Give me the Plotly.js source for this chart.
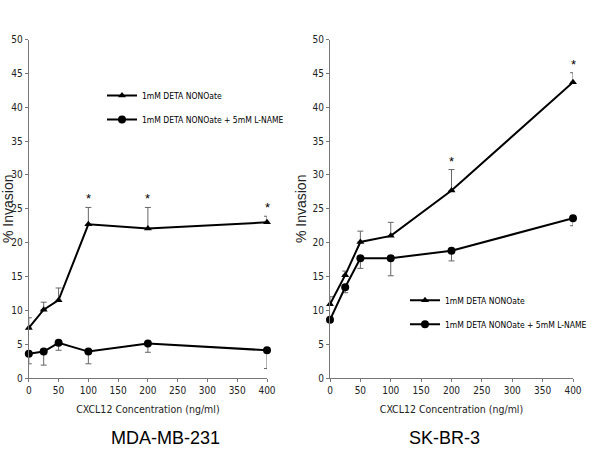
<!DOCTYPE html>
<html>
<head>
<meta charset="utf-8">
<script src="https://cdn.plot.ly/plotly-3.0.1.min.js"></script>
<style>
  html, body { margin: 0; padding: 0; background: #fff; }
  #chart { width: 600px; height: 450px; }
</style>
</head>
<body>
<div id="chart"></div>
<script>
// --- Data ---
const conc = [0, 25, 50, 100, 200, 400];

// MDA-MB-231
const mdaDeta = [7.4, 10.1, 11.5, 22.7, 22.1, 23.0];
const mdaDetaErr = [1.5, 1.1, 1.8, 2.5, 3.1, 0.9];
const mdaLname = [3.6, 3.9, 5.2, 3.9, 5.1, 4.1];
const mdaLnameErr = [1.5, 2.0, 1.1, 1.8, 1.3, 2.7];
const mdaStars = [100, 200, 400];

// SK-BR-3
const skDeta = [10.9, 15.2, 20.1, 21.0, 27.7, 43.7];
const skDetaErr = [1.1, 0.6, 1.6, 2.0, 3.1, 1.4];
const skLname = [8.6, 13.4, 17.7, 17.7, 18.8, 23.6];
const skLnameErr = [0.4, 0.8, 1.5, 2.6, 1.5, 1.1];
const skStars = [200, 400];

const legendNames = ['1mM DETA NONOate', '1mM DETA NONOate + 5mM L-NAME'];
const panelTitles = ['MDA-MB-231', 'SK-BR-3'];
const xTitle = 'CXCL12 Concentration (ng/ml)';
const yTitle = '% Invasion';

const narrow = '"DejaVu Sans Condensed", "Liberation Sans", Arial, sans-serif';
const sans = '"Liberation Sans", Arial, sans-serif';

function detaTrace(y, err, xa, ya, leg) {
    return {
        x: conc, y: y, xaxis: xa, yaxis: ya, legend: leg,
        name: legendNames[0], legendgroup: 'deta', type: 'scatter', mode: 'lines+markers',
        line: { color: '#000', width: 2 },
        marker: { symbol: 'triangle-up', size: 7, color: '#000' },
        error_y: { type: 'data', symmetric: false, array: err, arrayminus: err.map(() => 0),
                   color: '#666', thickness: 1, width: 3 },
        cliponaxis: false
    };
}

function lnameTrace(y, err, xa, ya, leg) {
    return {
        x: conc, y: y, xaxis: xa, yaxis: ya, legend: leg,
        name: legendNames[1], legendgroup: 'lname', type: 'scatter', mode: 'lines+markers',
        line: { color: '#000', width: 2 },
        marker: { symbol: 'circle', size: 8, color: '#000' },
        error_y: { type: 'data', symmetric: false, array: err.map(() => 0), arrayminus: err,
                   color: '#666', thickness: 1, width: 3 },
        cliponaxis: false
    };
}

const traces = [
    detaTrace(mdaDeta, mdaDetaErr, 'x', 'y', 'legend'),
    lnameTrace(mdaLname, mdaLnameErr, 'x', 'y', 'legend'),
    detaTrace(skDeta, skDetaErr, 'x2', 'y2', 'legend2'),
    lnameTrace(skLname, skLnameErr, 'x2', 'y2', 'legend2')
];

// significance stars above the error bars
function starNotes(stars, vals, errs, xref, yref) {
    return stars.map(s => {
        const i = conc.indexOf(s);
        return {
            x: s, y: vals[i] + errs[i], xref: xref, yref: yref,
            text: '*', showarrow: false, yanchor: 'bottom', yshift: -1,
            font: { family: sans, size: 13, color: '#000' }
        };
    });
}

function xAxis(domain, anchor) {
    return {
        domain: domain, anchor: anchor, range: [0, 400],
        tickvals: [0, 50, 100, 150, 200, 250, 300, 350, 400],
        showgrid: false, zeroline: false, showline: true, linecolor: '#777', linewidth: 1,
        ticks: 'outside', ticklen: 3, tickcolor: '#777',
        tickfont: { family: narrow, size: 10, color: '#222' },
        title: { text: xTitle, font: { family: narrow, size: 10.5, color: '#222' }, standoff: 10 },
        automargin: false
    };
}

function yAxis(domain, anchor) {
    return {
        domain: domain, anchor: anchor, range: [0, 50], dtick: 5,
        showgrid: false, zeroline: false, showline: true, linecolor: '#777', linewidth: 1,
        ticks: 'outside', ticklen: 3, tickcolor: '#777',
        tickfont: { family: narrow, size: 10, color: '#222' },
        title: { text: yTitle, font: { family: sans, size: 14, color: '#222' }, standoff: 2 },
        automargin: false
    };
}

const legendStyle = {
    font: { family: narrow, size: 8.5, color: '#000' },
    bgcolor: 'rgba(0,0,0,0)', itemwidth: 30, tracegroupgap: 5,
    traceorder: 'grouped', xanchor: 'left', yanchor: 'top'
};

const layout = {
    width: 600, height: 450,
    margin: { l: 0, r: 0, t: 0, b: 0, autoexpand: false },
    paper_bgcolor: '#fff', plot_bgcolor: '#fff',
    showlegend: true,
    xaxis: xAxis([0.048, 0.445], 'y'),
    yaxis: yAxis([0.16, 0.912], 'x'),
    xaxis2: xAxis([0.55, 0.955], 'y2'),
    yaxis2: yAxis([0.16, 0.912], 'x2'),
    legend: Object.assign({ x: 0.17, y: 0.82 }, legendStyle),
    legend2: Object.assign({ x: 0.675, y: 0.365 }, legendStyle),
    annotations: [
        ...starNotes(mdaStars, mdaDeta, mdaDetaErr, 'x', 'y'),
        ...starNotes(skStars, skDeta, skDetaErr, 'x2', 'y2'),
        { text: panelTitles[0], x: 0.275, y: 0.027, xref: 'paper', yref: 'paper', showarrow: false,
          xanchor: 'center', yanchor: 'middle', font: { family: sans, size: 18, color: '#000' } },
        { text: panelTitles[1], x: 0.74, y: 0.027, xref: 'paper', yref: 'paper', showarrow: false,
          xanchor: 'center', yanchor: 'middle', font: { family: sans, size: 18, color: '#000' } }
    ]
};

Plotly.newPlot('chart', traces, layout, { staticPlot: true });
</script>
</body>
</html>
